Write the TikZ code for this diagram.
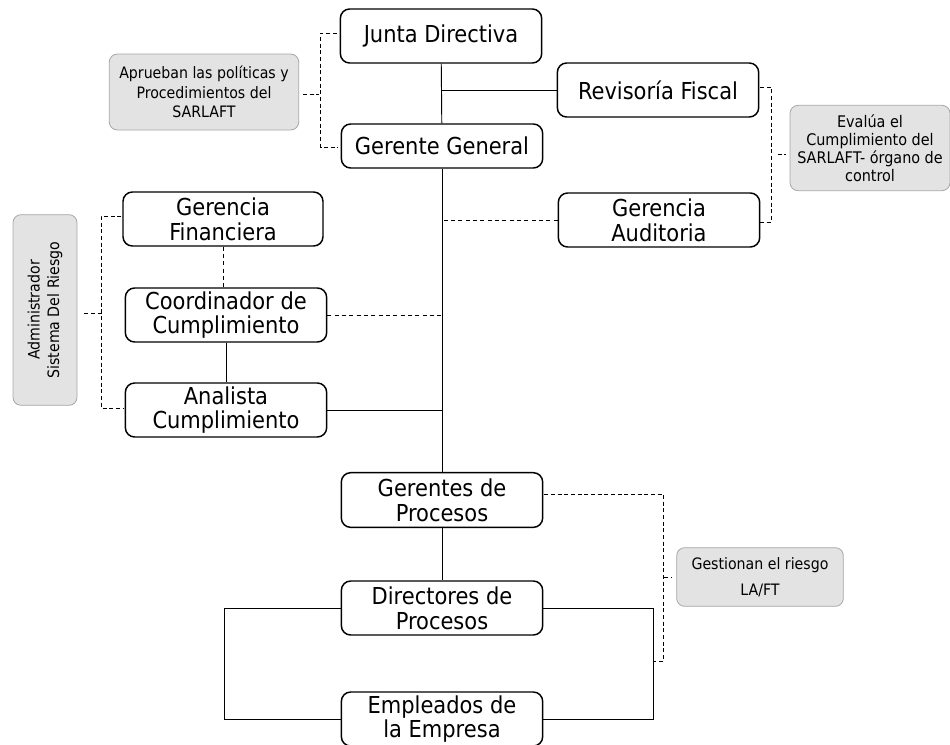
\documentclass[tikz,border=0pt]{standalone}
\usepackage{fontspec}
\setmainfont{DejaVu Sans Condensed}

\tikzset{
  cargo/.style={rectangle, draw, line width=1.1pt, rounded corners=7pt, align=center,
    minimum width=151pt, minimum height=40.5pt, inner sep=1pt,
    font=\fontsize{17.5}{18.5}\selectfont},
  nota/.style={rectangle, draw=gray!70, fill=gray!22, line width=0.6pt, rounded corners=6pt,
    align=center, inner sep=1pt, font=\fontsize{11.8}{14.5}\selectfont},
  llave/.style={densely dashed, line width=0.5pt},
  enlace/.style={line width=0.7pt},
  punteado/.style={dash pattern=on 3pt off 2.5pt, line width=0.7pt}
}

\begin{document}
\begin{tikzpicture}[x=0.75pt, y=-0.75pt]
    \useasboundingbox (0, 0) rectangle (950, 744);

    % cargos
    \node[cargo] (junta) at (441, 36) {Junta Directiva};
    \node[cargo, minimum height=33pt] (gerente) at (442, 146) {Gerente General};
    \node[cargo] (revisoria) at (658, 90) {Revisoría Fiscal};
    \node[cargo] (auditoria) at (659, 220) {Gerencia\\Auditoria};
    \node[cargo, minimum width=150pt] (financiera) at (223, 219) {Gerencia\\Financiera};
    \node[cargo] (coordinador) at (226, 315) {Coordinador de\\Cumplimiento};
    \node[cargo] (analista) at (226, 410) {Analista\\Cumplimiento};
    \node[cargo, minimum height=41pt] (gerentesp) at (442, 500) {Gerentes de\\Procesos};
    \node[cargo] (directores) at (442, 608) {Directores de\\Procesos};
    \node[cargo] (empleados) at (442, 719) {Empleados de\\la Empresa};

    % notas
    \node[nota, minimum width=142pt, minimum height=57pt] (aprueban) at (204, 92) {Aprueban las políticas y\\Procedimientos del\\SARLAFT};
    \node[nota, minimum width=120pt, minimum height=64pt, font=\fontsize{12}{13.6}\selectfont] (evalua) at (870, 148) {Evalúa el\\Cumplimiento del\\SARLAFT- órgano de\\control};
    \node[nota, rotate=90, minimum width=143pt, minimum height=48pt] (admin) at (45, 310) {Administrador\\Sistema Del Riesgo};
    \node[nota, minimum width=125pt, minimum height=44pt, font=\fontsize{11.8}{19.5}\selectfont] (gestionan) at (760, 577) {Gestionan el riesgo\\LA/FT};

    \draw[enlace] (junta) -- (gerente);
    \draw[enlace] (revisoria.west) -- (revisoria.west -| junta.south);
    \draw[enlace] (gerente) -- (gerentesp);
    \draw[punteado] (auditoria.west) -- (auditoria.west -| gerente.south);
    \draw[punteado] (coordinador.east) -- (coordinador.east -| gerente.south);
    \draw[enlace] (analista.east) -- (analista.east -| gerente.south);
    \draw[punteado] (financiera) -- (financiera |- coordinador.north);
    \draw[enlace] (coordinador) -- (coordinador |- analista.north);
    \draw[enlace] (gerentesp) -- (directores);
    \draw[enlace] (directores.west) -- ++(-116, 0) |- (empleados.west);
    \draw[enlace] (directores.east) -- ++(110, 0) |- (empleados.east);

    % llaves
    \draw[llave] ([shift={(-3, -3)}]junta.west) -- ++(-16, 0) |- ([shift={(-3, 1)}]gerente.west);
    \draw[llave] ([shift={(4, 2)}]aprueban.east) -- ++(16, 0);
    \draw[llave] ([shift={(1, -3)}]revisoria.east) -- ++(11, 0) |- ([shift={(0, 2)}]auditoria.east);
    \draw[llave] ([shift={(-12, 6)}]evalua.west) -- ++(8, 0);
    \draw[llave] ([shift={(-1, -3)}]financiera.west) -- ++(-20, 0) |- ([shift={(-1, -2)}]analista.west);
    \draw[llave] ([shift={(7, 3)}]admin.south) -- ++(18, 0);
    \draw[llave] ([shift={(1, -6)}]gerentesp.east) -- ++(119, 0) |- ++(-10, 167);
    \draw[llave] ([shift={(-12, 0)}]gestionan.west) -- ++(8, 0);

\end{tikzpicture}
\end{document}
